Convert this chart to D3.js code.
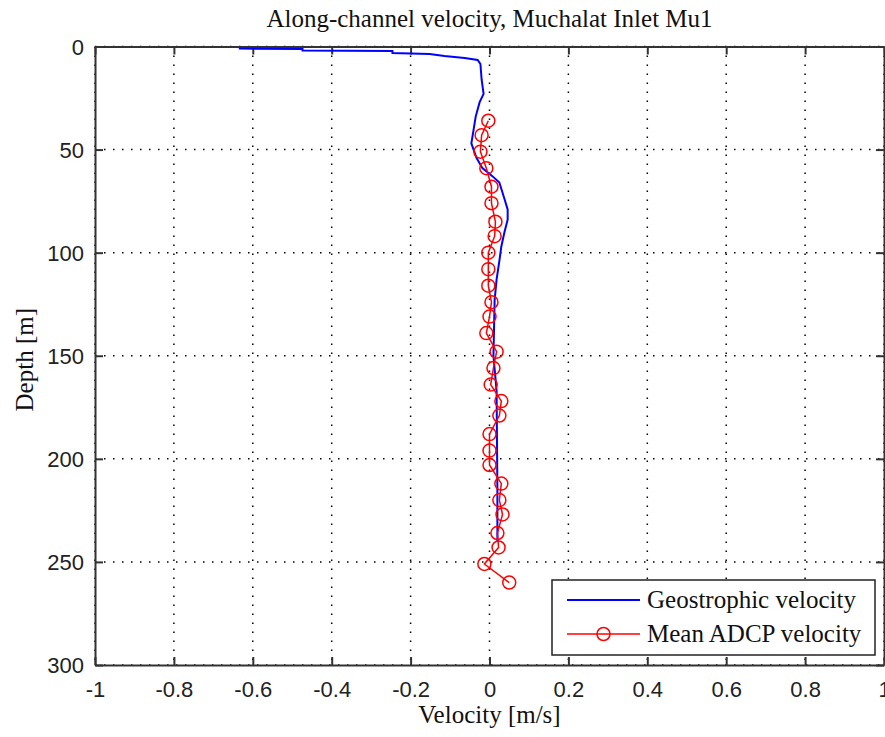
<!DOCTYPE html>
<html>
<head>
<meta charset="utf-8">
<script src="https://cdn.jsdelivr.net/npm/d3@7"></script>
<style>
  body { margin: 0; background: #fff; }
  svg { display: block; }
  .tick-label { font-family: "Liberation Sans", Arial, sans-serif; font-size: 22px; fill: #222; }
  .serif { font-family: "Liberation Serif", "Times New Roman", serif; fill: #111; }
</style>
</head>
<body>
<div id="chart"></div>
<script>
// geostrophic profile: depth (m), along-channel velocity (m/s)
var geoDepth = [0.5, 1, 1.2, 2, 2.2, 3.2, 3.6, 4.6, 5.6, 6.5, 8.5, 16, 23, 27, 34, 40, 47, 54, 59, 63, 66, 74, 79, 84, 90, 97, 104, 113, 123, 150, 167, 215, 240];
var geoVel = [-0.633, -0.633, -0.474, -0.474, -0.246, -0.246, -0.152, -0.114, -0.063, -0.030, -0.023, -0.020, -0.015, -0.025, -0.035, -0.040, -0.046, -0.033, -0.018, 0.008, 0.025, 0.038, 0.046, 0.046, 0.038, 0.030, 0.025, 0.018, 0.013, 0.010, 0.018, 0.020, 0.020];

// mean ADCP velocity
var adcpDepth = [36, 43, 51, 59, 68, 76, 85, 92, 100, 108, 116, 124, 131, 139, 148, 156, 164, 172, 179, 188, 196, 203, 212, 220, 227, 236, 243, 251, 260];
var adcpVel = [-0.003, -0.020, -0.023, -0.008, 0.005, 0.005, 0.015, 0.013, -0.003, -0.003, -0.003, 0.005, 0.000, -0.008, 0.018, 0.010, 0.003, 0.030, 0.025, 0.000, 0.000, 0.000, 0.030, 0.025, 0.033, 0.020, 0.023, -0.013, 0.050];

var xTicks = [-1, -0.8, -0.6, -0.4, -0.2, 0, 0.2, 0.4, 0.6, 0.8, 1];
var yTicks = [0, 50, 100, 150, 200, 250, 300];

var titleText = "Along-channel velocity, Muchalat Inlet Mu1";
var xLabel = "Velocity [m/s]";
var yLabel = "Depth [m]";
var seriesNames = ["Geostrophic velocity", "Mean ADCP velocity"];

var W = 885, H = 737;
var pLeft = 95, pRight = 884, pTop = 46.5, pBottom = 665;

var svg = d3.select("#chart").append("svg")
  .attr("width", W)
  .attr("height", H);

var x = d3.scaleLinear().domain([-1, 1]).range([pLeft, pRight]);
var y = d3.scaleLinear().domain([0, 300]).range([pTop, pBottom]);

// grid
svg.append("g").selectAll("line")
  .data(xTicks)
  .join("line")
  .attr("x1", function(d) { return x(d); })
  .attr("x2", function(d) { return x(d); })
  .attr("y1", pTop).attr("y2", pBottom)
  .attr("stroke", "#000").attr("stroke-width", 1.5)
  .attr("stroke-dasharray", "1.5,7.5");
svg.append("g").selectAll("line")
  .data(yTicks)
  .join("line")
  .attr("y1", function(d) { return y(d); })
  .attr("y2", function(d) { return y(d); })
  .attr("x1", pLeft).attr("x2", pRight)
  .attr("stroke", "#000").attr("stroke-width", 1.5)
  .attr("stroke-dasharray", "1.5,7.5");

function fmt(d) { return d === 0 ? "0" : String(+d.toFixed(1)); }

// axes with inward ticks, box on all four sides
var tl = 8;
var axB = svg.append("g").attr("transform", "translate(0," + pBottom + ")")
  .call(d3.axisBottom(x).tickValues(xTicks).tickFormat(fmt).tickSizeInner(-tl).tickSizeOuter(0).tickPadding(11));
var axT = svg.append("g").attr("transform", "translate(0," + pTop + ")")
  .call(d3.axisTop(x).tickValues(xTicks).tickFormat("").tickSizeInner(-tl).tickSizeOuter(0));
var axL = svg.append("g").attr("transform", "translate(" + pLeft + ",0)")
  .call(d3.axisLeft(y).tickValues(yTicks).tickFormat(fmt).tickSizeInner(-tl).tickSizeOuter(0).tickPadding(11));
var axR = svg.append("g").attr("transform", "translate(" + pRight + ",0)")
  .call(d3.axisRight(y).tickValues(yTicks).tickFormat("").tickSizeInner(-tl).tickSizeOuter(0));

[axB, axT, axL, axR].forEach(function(a) {
  a.select(".domain").attr("stroke", "#333").attr("stroke-width", 2);
  a.selectAll(".tick line").attr("stroke", "#333").attr("stroke-width", 2);
  a.selectAll(".tick text").attr("class", "tick-label").attr("fill", null);
});
axB.selectAll(".tick text").attr("dy", "0.95em");
axL.selectAll(".tick text").attr("dy", "0.36em");

// geostrophic line
var line = d3.line()
  .x(function(d) { return x(d[1]); })
  .y(function(d) { return y(d[0]); });

svg.append("path")
  .datum(d3.zip(geoDepth, geoVel))
  .attr("d", line)
  .attr("fill", "none")
  .attr("stroke", "#0000ff")
  .attr("stroke-width", 2);

// ADCP line with circles
var adcp = d3.zip(adcpDepth, adcpVel);
svg.append("path")
  .datum(adcp)
  .attr("d", line)
  .attr("fill", "none")
  .attr("stroke", "#ff0000")
  .attr("stroke-width", 1.5);
svg.append("g").selectAll("circle")
  .data(adcp)
  .join("circle")
  .attr("cx", function(d) { return x(d[1]); })
  .attr("cy", function(d) { return y(d[0]); })
  .attr("r", 6.5)
  .attr("fill", "none")
  .attr("stroke", "#ff0000")
  .attr("stroke-width", 1.5);

// title & labels
svg.append("text").attr("class", "serif")
  .attr("x", (pLeft + pRight) / 2).attr("y", 27)
  .attr("text-anchor", "middle").attr("font-size", 25)
  .text(titleText);
svg.append("text").attr("class", "serif")
  .attr("x", (pLeft + pRight) / 2).attr("y", 723)
  .attr("text-anchor", "middle").attr("font-size", 25)
  .text(xLabel);
svg.append("text").attr("class", "serif")
  .attr("transform", "translate(33," + ((pTop + pBottom) / 2 + 4) + ") rotate(-90)")
  .attr("text-anchor", "middle").attr("font-size", 25)
  .text(yLabel);

// legend
var lg = svg.append("g");
lg.append("rect")
  .attr("x", 552).attr("y", 580).attr("width", 323).attr("height", 75)
  .attr("fill", "#fff").attr("stroke", "#222").attr("stroke-width", 1.5);
var rows = [{ name: seriesNames[0], color: "#0000ff", marker: false, yy: 600 },
            { name: seriesNames[1], color: "#ff0000", marker: true, yy: 634 }];
rows.forEach(function(r) {
  lg.append("line")
    .attr("x1", 567).attr("x2", 640).attr("y1", r.yy).attr("y2", r.yy)
    .attr("stroke", r.color).attr("stroke-width", r.marker ? 1.5 : 2);
  if (r.marker) {
    lg.append("circle").attr("cx", 603.5).attr("cy", r.yy).attr("r", 6.5)
      .attr("fill", "none").attr("stroke", r.color).attr("stroke-width", 1.5);
  }
  lg.append("text").attr("class", "serif")
    .attr("x", 647).attr("y", r.yy + 8).attr("font-size", 25)
    .text(r.name);
});
</script>
</body>
</html>
